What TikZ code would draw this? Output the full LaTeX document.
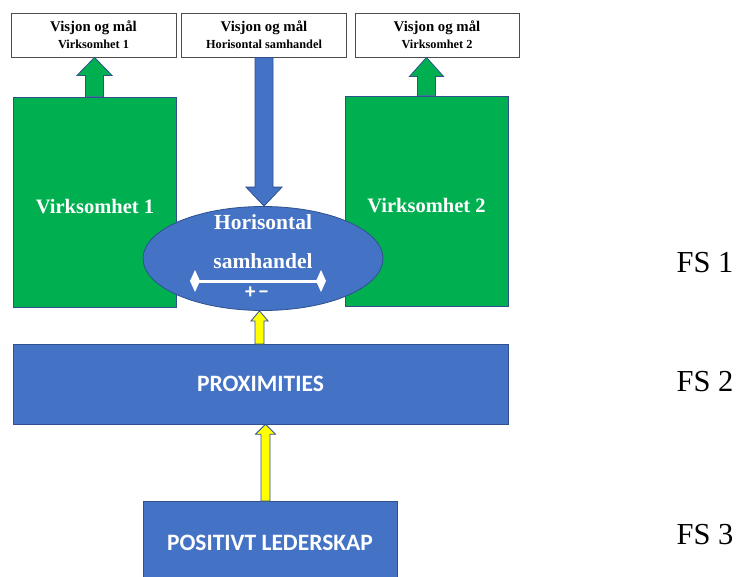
\documentclass[tikz,border=0pt]{standalone}
\usepackage{fontspec}
\setmainfont{Liberation Serif}
\newfontfamily\carlito{Carlito}
\usetikzlibrary{arrows.meta,shapes.geometric,calc}
\definecolor{vblue}{HTML}{4472C4}
\definecolor{vedge}{HTML}{2F528F}
\definecolor{vgreen}{HTML}{00B050}
\definecolor{vyellow}{HTML}{FFFF00}
\newcommand{\vblockarrow}[6]{%
  \draw[#6] let \p1=(#1), \p2=(#2) in
    ({\x1-#3/2},\y1) -- ({\x1-#3/2},{\y2-(#5)}) -- ({\x1-#4/2},{\y2-(#5)}) -- (\x1,\y2)
    -- ({\x1+#4/2},{\y2-(#5)}) -- ({\x1+#3/2},{\y2-(#5)}) -- ({\x1+#3/2},\y1) -- cycle;}
\tikzset{
  topbox/.style={draw=black!70, line width=0.8pt, fill=white, minimum width=165pt,
    minimum height=44pt, align=center, inner sep=0pt, font=\bfseries\fontsize{12.3}{17}\selectfont},
  greenbox/.style={fill=vgreen, draw=vedge, line width=0.6pt, minimum width=163pt,
    minimum height=210pt, inner sep=0pt},
  whitetext/.style={text=white, font=\bfseries\fontsize{20.5}{23}\selectfont, inner sep=0pt},
  bluebox/.style={fill=vblue, draw=vedge, line width=0.6pt, text=white, inner sep=0pt,
    font=\carlito\bfseries\fontsize{23.5}{26}\selectfont},
  ellshape/.style={ellipse, fill=vblue, draw=vedge, line width=0.8pt, minimum width=240pt,
    minimum height=104pt, inner sep=0pt},
  greenarrow/.style={fill=vgreen, draw=vedge, line width=0.8pt},
  bluearrow/.style={fill=vblue, draw=vedge, line width=0.8pt},
  yellowarrow/.style={fill=vyellow, draw=vedge, line width=0.8pt},
  fslabel/.style={font=\fontsize{30.5}{33}\selectfont, inner sep=0pt}
}
\begin{document}
\begin{tikzpicture}[x=1pt,y=-1pt]
\clip (0,0) rectangle (738,576);
\fill[white] (0,0) rectangle (738,576);
% top boxes
\node[topbox] (v1) at (93.5,35) {{\fontsize{14.8}{17}\selectfont Visjon og mål}\\Virksomhet 1};
\node[topbox] (v2) at (264,35) {{\fontsize{14.8}{17}\selectfont Visjon og mål}\\Horisontal samhandel};
\node[topbox, minimum width=164pt] (v3) at (437,35) {{\fontsize{14.8}{17}\selectfont Visjon og mål}\\Virksomhet 2};
% green boxes
\node[greenbox] (g1) at (94.5,202) {};
\node[greenbox] (g2) at (426.5,201) {};
\node[whitetext] (g1t) at (95,207) {Virksomhet 1};
\node[whitetext] (g2t) at (426.5,206) {Virksomhet 2};
% green arrows
\vblockarrow{g1.north}{v1.south}{18pt}{35pt}{18pt}{greenarrow}
\vblockarrow{g2.north}{v3.south}{18pt}{34pt}{19pt}{greenarrow}
% ellipse
\node[ellshape] (ell) at (263,258.5) {};
\node[whitetext, font=\bfseries\fontsize{21.5}{23}\selectfont] (hor) at (263,222) {Horisontal};
\node[whitetext, font=\bfseries\fontsize{21.5}{23}\selectfont] (sam) at (263,261) {samhandel};
\coordinate (dl) at (190,281);
\coordinate (dr) at (326,281);
\draw[white, line width=3pt, {Kite[length=10pt,width=22pt,inset=5pt]}-{Kite[length=10pt,width=22pt,inset=5pt]}] (dl) -- (dr);
\node[text=white, font=\carlito\bfseries\fontsize{21}{22}\selectfont, inner sep=0pt] (pm) at (257,293) {+\hspace{3pt}−};
% blue down arrow
\vblockarrow{v2.south}{ell.north}{18pt}{36pt}{-19pt}{bluearrow}
% proximities
\node[bluebox, minimum width=495pt, minimum height=80pt] (prox) at (260.5,384) {PROXIMITIES};
\node[bluebox, minimum width=254pt, minimum height=84pt] (pos) at (270,543) {POSITIVT LEDERSKAP};
% yellow arrows
\coordinate (ya1) at (259.5,344);
\vblockarrow{ya1}{ell.south}{9pt}{17pt}{10pt}{yellowarrow}
\coordinate (ya2) at (265.5,501);
\vblockarrow{ya2}{prox.south}{9pt}{20pt}{10pt}{yellowarrow}
% FS labels
\node[fslabel] (fs1) at (705,263) {FS 1};
\node[fslabel] (fs2) at (705,382) {FS 2};
\node[fslabel] (fs3) at (705,535) {FS 3};
\end{tikzpicture}
\end{document}
